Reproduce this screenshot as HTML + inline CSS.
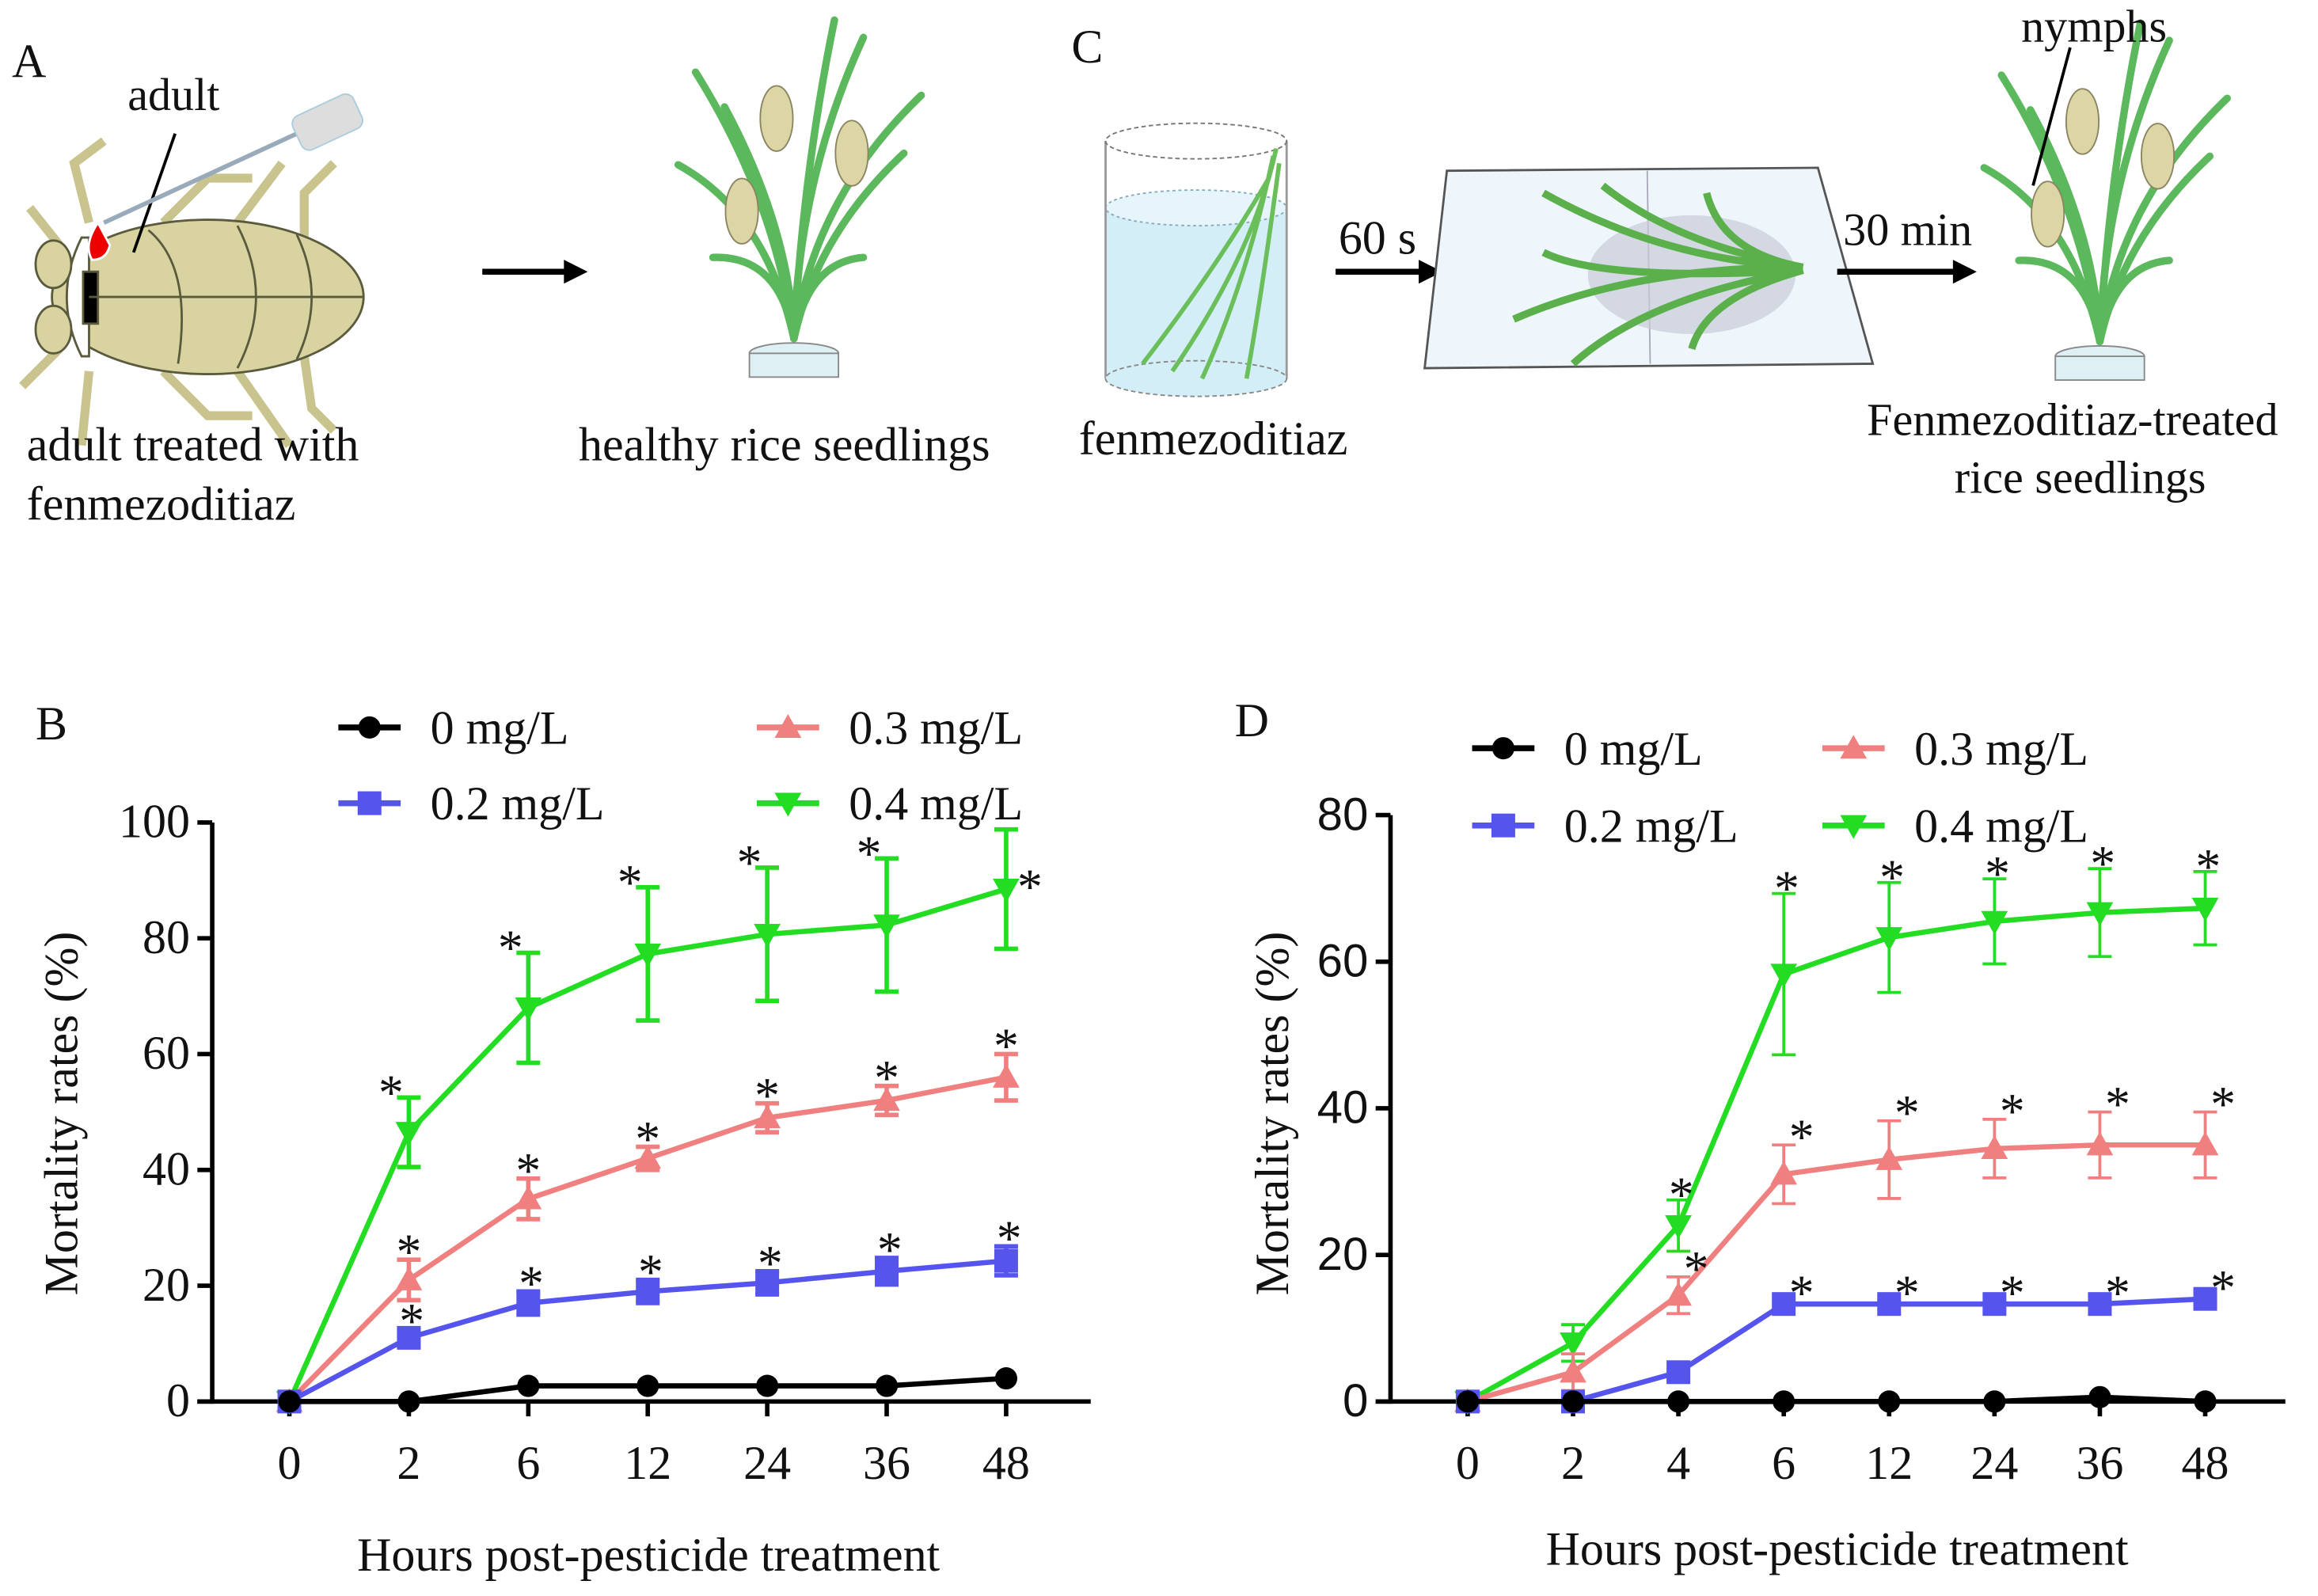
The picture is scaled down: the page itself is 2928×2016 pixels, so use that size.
<!DOCTYPE html>
<html><head><meta charset="utf-8"><style>
html,body{margin:0;padding:0;background:#fff;}
svg{display:block;}
text{font-family:"Liberation Serif",serif;fill:#111;}
</style></head><body>
<svg id="fig" width="2928" height="2016" viewBox="0 0 1562 1075" preserveAspectRatio="none" xmlns="http://www.w3.org/2000/svg">
<rect width="1562" height="1075" fill="#fff"/>
<!-- Panel A -->
<g>
<text x="8" y="52" font-size="32">A</text>
<text x="86" y="74" font-size="31">adult</text>
<g stroke="#5a5a3c" stroke-width="1.5" fill="#d8d3a0">
<path d="M40,165 L20,140 M40,235 L15,260 M60,150 L50,110 L70,95 M60,250 L55,300 M110,150 L140,120 L170,120 M110,250 L140,280 L170,280 M160,150 L190,110 M160,250 L195,300 M205,160 L205,130 L225,110 M205,240 L210,275 L225,290" fill="none" stroke="#c9c48e" stroke-width="6"/>
<ellipse cx="140" cy="200" rx="105" ry="52"/>
<path d="M55,160 Q35,200 55,240 L60,240 L60,160Z" fill="#fff"/>
<ellipse cx="36" cy="178" rx="12" ry="16" fill="#d8d3a0"/>
<ellipse cx="36" cy="222" rx="12" ry="16" fill="#d8d3a0"/>
<rect x="56" y="183" width="10" height="35" fill="#000"/>
<path d="M66,150 Q56,165 62,175 Q72,175 74,165Z" fill="#e00" stroke="#fff"/>
<path d="M60,200 L245,200 M100,155 Q130,180 120,245 M160,152 Q185,200 160,248 M200,158 Q220,200 200,242" fill="none"/>
</g>
<path d="M118,90 L90,170" stroke="#000" stroke-width="2"/>
<path d="M70,150 L200,90" stroke="#9ab" stroke-width="3"/>
<rect x="198" y="70" width="45" height="25" rx="6" fill="#ddd" stroke="#acd" transform="rotate(-25 220 82)"/>
<text x="18" y="310" font-size="32">adult treated with</text>
<text x="18" y="350" font-size="32">fenmezoditiaz</text>
<path d="M325,183 L382,183" stroke="#000" stroke-width="4"/>
<path d="M380,175 L396,183 L380,191Z" fill="#000"/>
<g id="plant1"></g>
<text x="390" y="310" font-size="32">healthy rice seedlings</text>
</g>
<!-- Panel C -->
<g>
<text x="722" y="42" font-size="32">C</text>
<g>
<rect x="745" y="140" width="122" height="115" fill="#d4eef8"/>
<ellipse cx="806" cy="140" rx="61" ry="12" fill="#e6f5fb" stroke="#8ab" stroke-dasharray="2 2"/>
<path d="M745,95 L745,255 M867,95 L867,255" stroke="#999" stroke-width="1.5"/>
<ellipse cx="806" cy="95" rx="61" ry="12" fill="none" stroke="#777" stroke-dasharray="3 2"/>
<ellipse cx="806" cy="255" rx="61" ry="12" fill="#d4eef8" stroke="#888" stroke-dasharray="3 2"/>
<path d="M860,100 Q845,170 790,250 M858,105 Q840,190 810,255 M862,110 Q850,200 840,255 M855,120 Q820,180 770,245" stroke="#6bbf5a" stroke-width="3" fill="none"/>
</g>
<text x="727" y="306" font-size="32">fenmezoditiaz</text>
<text x="902" y="171" font-size="32">60 s</text>
<path d="M900,183 L958,183" stroke="#000" stroke-width="4"/>
<path d="M956,175 L972,183 L956,191Z" fill="#000"/>
<g>
<path d="M975,115 L1225,113 L1262,245 L960,248Z" fill="#eef6fb" stroke="#555" stroke-width="1.5"/>
<path d="M1110,115 L1112,245" stroke="#aab" stroke-width="1"/>
<ellipse cx="1140" cy="185" rx="70" ry="40" fill="#c8ccd8" opacity="0.7"/>
<path d="M1215,180 Q1120,175 1040,130 M1215,180 Q1100,180 1020,215 M1215,182 Q1110,200 1060,245 M1215,180 Q1130,165 1080,125 M1215,182 Q1150,200 1140,235 M1215,180 Q1160,170 1150,130 M1215,182 Q1080,190 1040,170" stroke="#5bb04c" stroke-width="5" fill="none"/>
</g>
<text x="1242" y="165" font-size="31">30 min</text>
<path d="M1238,183 L1318,183" stroke="#000" stroke-width="4"/>
<path d="M1316,175 L1332,183 L1316,191Z" fill="#000"/>
<g id="plant2"></g>
<text x="1362" y="28" font-size="31">nymphs</text>
<path d="M1395,32 L1370,125" stroke="#000" stroke-width="2"/>
<text x="1258" y="293" font-size="31">Fenmezoditiaz-treated</text>
<text x="1317" y="332" font-size="31">rice seedlings</text>
</g>
<g id="chartB"></g>
<g id="chartD"></g>
</svg>
<script>
// ---------- Chart B data ----------
const catsB = ["0","2","6","12","24","36","48"];
const b0 = [0,0,2.7,2.7,2.7,2.7,4];
const b0e = [0,0,0,0,0,0,0];
const b2 = [0,11,17,19,20.5,22.5,24.3];
const b2e = [0,1.5,2,2,2,2.3,2.5];
const b3 = [0,21,35,42,49,52,56];
const b3e = [0,3.5,3.5,2,2.5,2.5,4];
const b4 = [0,46.5,68,77.3,80.7,82.3,88.5];
const b4e = [0,6,9.5,11.5,11.5,11.5,10.3];
const ticksB = [0,20,40,60,80,100];
// ---------- Chart D data ----------
const catsD = ["0","2","4","6","12","24","36","48"];
const d0 = [0,0,0,0,0,0,0.6,0];
const d0e = [0,0,0,0,0,0,0,0];
const d2 = [0,0,4,13.3,13.3,13.3,13.3,14];
const d2e = [0,0,0,0,0,0,0,0];
const d3 = [0,4,14.5,31,33,34.5,35,35];
const d3e = [0,2.5,2.5,4,5.3,4,4.5,4.5];
const d4 = [0,8,24,58.3,63.3,65.5,66.7,67.3];
const d4e = [0,2.5,3.5,11,7.5,5.8,6,5];
const ticksD = [0,20,40,60,80];
const starsB2 = [false,true,true,true,true,true,true];
const starsD2 = [false,false,false,true,true,true,true,true];
const starsD3 = [false,false,true,true,true,true,true,true];
const starsD4 = [false,false,true,true,true,true,true,true];

const NS="http://www.w3.org/2000/svg";
function mk(parent,tag,attrs,txt){const e=document.createElementNS(NS,tag);for(const k in attrs)e.setAttribute(k,attrs[k]);if(txt!==undefined)e.textContent=txt;parent.appendChild(e);return e;}

function marker(g,type,x,y,color){
  let e;
  if(type==="circle"){e=mk(g,"circle",{cx:x,cy:y,r:7.5,fill:color});}
  else if(type==="square"){e=mk(g,"rect",{x:x-8,y:y-8,width:16,height:16,fill:color});}
  else if(type==="up"){e=mk(g,"path",{d:`M${x},${y-9} L${x+9},${y+7} L${x-9},${y+7}Z`,fill:color});}
  else {e=mk(g,"path",{d:`M${x},${y+9} L${x+9},${y-7} L${x-9},${y-7}Z`,fill:color});}
  return e;
}

function chart(root,cfg){
  const X=i=>cfg.x0+i*cfg.dx;
  const Y=v=>cfg.y0-(v/cfg.ymax)*(cfg.y0-cfg.y1);
  const ya=mk(root,"line",{x1:cfg.ax,y1:Y(cfg.ymax),x2:cfg.ax,y2:cfg.y0+1.5,stroke:"#000","stroke-width":3});
  
  
  const xa=mk(root,"line",{x1:cfg.ax-10,y1:cfg.y0,x2:cfg.xend,y2:cfg.y0,stroke:"#000","stroke-width":3});
  
  
  cfg.ticks.forEach(t=>{
    const l=mk(root,"line",{x1:cfg.ax-10,y1:Y(t),x2:cfg.ax,y2:Y(t),stroke:"#000","stroke-width":3});
    
    
    const tx=mk(root,"text",{x:cfg.ax-15,y:Y(t)+10,"font-size":cfg.tfs,"text-anchor":"end"},String(t));
    if(cfg.tfont) tx.setAttribute("style","font-family:"+cfg.tfont);
    
    
  });
  cfg.cats.forEach((c,i)=>{
    const l=mk(root,"line",{x1:X(i),y1:cfg.y0,x2:X(i),y2:cfg.y0+10,stroke:"#000","stroke-width":3});
    
    
    const tx=mk(root,"text",{x:X(i),y:cfg.y0+52,"font-size":32,"text-anchor":"middle"},c);
    
    
  });
  const xt=mk(root,"text",{x:cfg.xtx,y:cfg.xty,"font-size":32,"text-anchor":"middle"},"Hours post-pesticide treatment");
  
  
  const yt=mk(root,"text",{x:0,y:0,"font-size":32,"text-anchor":"middle",transform:`translate(${cfg.ytx},${cfg.yty}) rotate(-90)`},"Mortality rates (%)");
  
  
  const pl=mk(root,"text",{x:cfg.plx,y:cfg.ply,"font-size":32},cfg.panel);
  
  
  cfg.series.forEach(s=>{
    const g=mk(root,"g",{});
    
    
    s.vals.forEach((v,i)=>{
      const e=s.err[i];
      if(e>0){
        const eb=mk(g,"path",{d:`M${X(i)},${Y(v-e)} L${X(i)},${Y(v+e)} M${X(i)-8},${Y(v+e)} L${X(i)+8},${Y(v+e)} M${X(i)-8},${Y(v-e)} L${X(i)+8},${Y(v-e)}`,stroke:s.color,"stroke-width":s.ew,fill:"none"});
        
        
      }
    });
    const pts=s.vals.map((v,i)=>`${X(i)},${Y(v)}`).join(" ");
    const ln=mk(g,"polyline",{points:pts,fill:"none",stroke:s.color,"stroke-width":3.5});
    
    
    s.vals.forEach((v,i)=>{
      const m=marker(g,s.marker,X(i),Y(v),s.color);
      
      
      if(s.stars && s.stars[i]){
        let dx=s.sdx||0, dy=s.sdy||0;
        if(s.lastRight && i===s.vals.length-1){dx=16;dy=36;}
        const st=mk(g,"text",{x:X(i)+dx,y:Y(v+s.err[i])+dy+14,"font-size":34,"text-anchor":"middle"},"*");
        
        
      }
    });
  });
  cfg.legend.forEach(L=>{
    const g=mk(root,"g",{});
    
    
    mk(g,"line",{x1:L.x,y1:L.y,x2:L.x+42,y2:L.y,stroke:L.color,"stroke-width":4});
    marker(g,L.marker,L.x+21,L.y,L.color);
    mk(g,"text",{x:L.x+62,y:L.y+11,"font-size":32},L.label);
  });
}

const black="#000", blue="#5555ee", pink="#f08080", green="#22dd22";
chart(document.getElementById("chartB"),{
  cats:catsB,ticks:ticksB,ymax:100,x0:195,dx:80.5,y0:944,y1:554,ax:143,xend:735,tfs:32,
  xtx:437,xty:1058,ytx:52,yty:750,plx:24,ply:498,panel:"B",
  series:[
    {key:"0.4",vals:b4,err:b4e,color:green,marker:"down",ew:3,stars:[false,true,true,true,true,true,true],sdx:-12,sdy:-6,lastRight:true},
    {key:"0.3",vals:b3,err:b3e,color:pink,marker:"up",ew:3,stars:[false,true,true,true,true,true,true],sdx:0,sdy:-8},
    {key:"0.2",vals:b2,err:b2e,color:blue,marker:"square",ew:3,stars:starsB2,sdx:2,sdy:-8},
    {key:"0",vals:b0,err:b0e,color:black,marker:"circle",ew:3}
  ],
  legend:[
    {x:228,y:490,color:black,marker:"circle",label:"0 mg/L"},
    {x:510,y:490,color:pink,marker:"up",label:"0.3 mg/L"},
    {x:228,y:541,color:blue,marker:"square",label:"0.2 mg/L"},
    {x:510,y:541,color:green,marker:"down",label:"0.4 mg/L"}
  ]
});
chart(document.getElementById("chartD"),{
  cats:catsD,ticks:ticksD,ymax:80,x0:989,dx:71,y0:944,y1:549,ax:937,xend:1540,tfs:31,tfont:"'Liberation Sans', sans-serif",
  xtx:1238,xty:1054,ytx:868,yty:750,plx:832,ply:496,panel:"D",
  series:[
    {key:"0.4",vals:d4,err:d4e,color:green,marker:"down",ew:2,stars:starsD4,sdx:2,sdy:-6},
    {key:"0.3",vals:d3,err:d3e,color:pink,marker:"up",ew:2,stars:starsD3,sdx:12,sdy:-8},
    {key:"0.2",vals:d2,err:d2e,color:blue,marker:"square",ew:2,stars:starsD2,sdx:12,sdy:-10},
    {key:"0",vals:d0,err:d0e,color:black,marker:"circle",ew:2}
  ],
  legend:[
    {x:992,y:504,color:black,marker:"circle",label:"0 mg/L"},
    {x:1228,y:504,color:pink,marker:"up",label:"0.3 mg/L"},
    {x:992,y:556,color:blue,marker:"square",label:"0.2 mg/L"},
    {x:1228,y:556,color:green,marker:"down",label:"0.4 mg/L"}
  ]
});

function plant(g,cx,by,s){
  const leaves=[[-60,-180,-100,-150],[-40,-200,-85,-230],[10,-230,60,-260],[40,-200,110,-210],[50,-150,95,-160],[-30,-120,-70,-70],[30,-110,60,-70],[-10,-160,-60,-200],[20,-240,35,-275]];
  leaves.forEach(L=>{
    mk(g,"path",{d:`M${cx},${by} Q${cx+L[0]*s*0.4},${by+L[1]*s*0.6} ${cx+L[2]*s},${by+L[3]*s}`,stroke:"#5cb85c","stroke-width":5,fill:"none","stroke-linecap":"round"});
  });
  mk(g,"ellipse",{cx:cx,cy:by+10,rx:30,ry:7,fill:"#dff0f5",stroke:"#888"});
  mk(g,"rect",{x:cx-30,y:by+10,width:60,height:16,fill:"#dff0f5",stroke:"#888"});
  [[-45,-110],[-15,-190],[50,-160]].forEach(p=>{
    mk(g,"ellipse",{cx:cx+p[0]*s,cy:by+p[1]*s,rx:11,ry:22,fill:"#dcd6a6",stroke:"#8a8460"});
  });
}
plant(document.getElementById("plant1"),535,228,0.78);
plant(document.getElementById("plant2"),1415,230,0.78);
</script>
</body></html>
